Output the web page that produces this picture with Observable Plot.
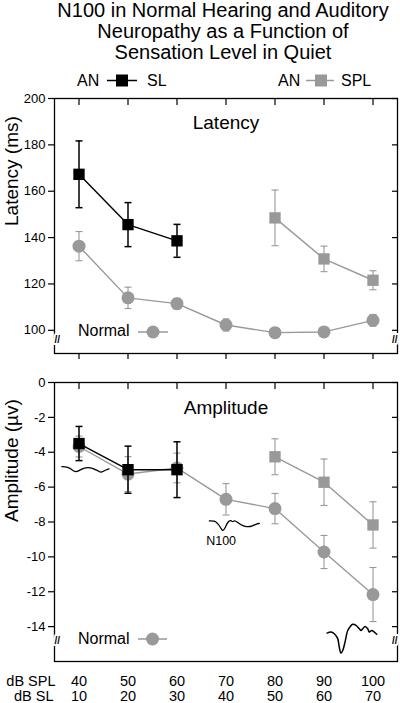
<!DOCTYPE html>
<html>
<head>
<meta charset="utf-8">
<script src="https://cdn.jsdelivr.net/npm/d3@7"></script>
<script src="https://cdn.jsdelivr.net/npm/@observablehq/plot@0.6"></script>
<style>
  html, body { margin: 0; padding: 0; background: #fff; }
  body { width: 400px; height: 703px; position: relative; overflow: hidden;
         font-family: "Liberation Sans", Arial, sans-serif; color: #000; }
  #title { position: absolute; top: 0; left: 0; width: 446px; text-align: center;
           font-size: 20px; line-height: 21px; }
  #top { position: absolute; left: 0; top: 88px; }
  #bottom { position: absolute; left: 0; top: 372px; }
  #legend { position: absolute; left: 0; top: 0; pointer-events: none; }
  svg text { font-family: "Liberation Sans", Arial, sans-serif; }
</style>
</head>
<body>
<div id="title">N100 in Normal Hearing and Auditory<br>Neuropathy as a Function of<br>Sensation Level in Quiet</div>
<div id="top"></div>
<div id="bottom"></div>
<svg id="legend" width="400" height="703">
  <g font-size="16">
    <text x="77" y="86">AN</text>
    <line x1="107" x2="137" y1="80.5" y2="80.5" stroke="#000" stroke-width="1.5"/>
    <rect x="116" y="74.5" width="12" height="12" fill="#000"/>
    <text x="147" y="86">SL</text>
    <text x="278" y="86">AN</text>
    <line x1="306" x2="334" y1="80.5" y2="80.5" stroke="#999" stroke-width="1.5"/>
    <rect x="315" y="74.5" width="12" height="12" fill="#999"/>
    <text x="341" y="86">SPL</text>
    <text x="78" y="336">Normal</text>
    <line x1="138" x2="168" y1="332" y2="332" stroke="#999" stroke-width="1.5"/>
    <circle cx="153" cy="332" r="6.5" fill="#999"/>
    <text x="78" y="644">Normal</text>
    <line x1="138" x2="167" y1="639" y2="639" stroke="#999" stroke-width="1.5"/>
    <circle cx="152.5" cy="639" r="6.5" fill="#999"/>
  </g>
</svg>
<script>
// ---- data ----
const levelsSPL = [40, 50, 60, 70, 80, 90, 100];
const levelsSL = [10, 20, 30, 40, 50, 60, 70];
const anSLLevels = [40, 50, 60];
const anSPLLevels = [80, 90, 100];

const latencyTicks = [100, 120, 140, 160, 180, 200];
const amplitudeTicks = [0, -2, -4, -6, -8, -10, -12, -14];

const latencyNormal = [136.3, 114.0, 111.5, 102.3, 99.0, 99.3, 104.3];
const latencyNormalErr = [6.3, 4.6, 2.3, 2.6, 1.5, 1.8, 2.5];
const latencyANSL = [167.3, 145.6, 138.6];
const latencyANSLErr = [14.4, 9.5, 7.1];
const latencyANSPL = [148.5, 130.8, 121.6];
const latencyANSPLErr = [12.0, 5.5, 4.1];

const amplitudeNormal = [-3.67, -5.25, -4.9, -6.7, -7.23, -9.72, -12.16];
const amplitudeNormalErr = [0.6, 1.0, 0.85, 0.9, 0.87, 0.95, 1.55];
const amplitudeANSL = [-3.5, -5.0, -5.0];
const amplitudeANSLErr = [0.98, 1.35, 1.6];
const amplitudeANSPL = [-4.26, -5.72, -8.17];
const amplitudeANSPLErr = [1.03, 1.33, 1.33];

// waveform insets (read in chart units: level, µV)
const wave1X = [36.5, 37.55, 38.37, 39.18, 40.0, 40.82, 41.84, 42.86, 43.88, 44.49, 45.1, 46.12];
const wave1Y = [-4.83, -4.83, -4.95, -5.15, -5.06, -4.92, -4.86, -4.92, -5.06, -5.18, -5.06, -4.95];
const wave2X = [66.59, 67.61, 68.31, 68.98, 69.33, 69.8, 70.35, 71.02, 71.37, 71.69, 72.39, 73.06, 73.73, 74.43, 75.45, 76.12, 76.8];
const wave2Y = [-7.93, -7.93, -8.07, -8.36, -8.55, -8.36, -7.98, -7.89, -8.02, -7.89, -8.02, -8.17, -8.23, -8.29, -8.23, -8.12, -8.08];
const wave3X = [90.61, 91.43, 92.1, 92.8, 93.12, 93.47, 93.82, 94.29, 94.84, 95.37, 95.86, 96.53, 97.2, 97.55, 97.9, 98.37, 98.92, 99.24, 99.73, 100.27, 100.76];
const wave3Y = [-14.37, -14.31, -14.41, -14.69, -15.18, -15.52, -15.37, -14.89, -14.22, -13.99, -13.87, -13.93, -14.12, -14.22, -14.12, -13.99, -14.12, -14.31, -14.22, -14.31, -14.44];
const waveLabel = "N100";
const waveLabelAt = [69.0, -9.08];

const latencyTitle = "Latency";
const amplitudeTitle = "Amplitude";
const latencyAxisTitle = "Latency (ms)";
const amplitudeAxisTitle = "Amplitude (\u00B5v)";
const rowLabels = ["dB SPL", "dB SL"];

// ---- helpers ----
const table = (xs, ys, es) => xs.map((x, i) => ({x, y: ys[i], e: es[i]}));
const pts = (xs, ys) => xs.map((x, i) => ({x, y: ys[i]}));
const capSymbol = {draw(ctx, size) { const w = Math.sqrt(size / Math.PI); ctx.moveTo(-w, 0); ctx.lineTo(w, 0); }};
const GRAY = "#999";

function series(data, color, symbol, r, sw) {
  return [
    Plot.ruleX(data, {x: "x", y1: d => d.y - d.e, y2: d => d.y + d.e, stroke: color, strokeWidth: sw}),
    Plot.dot(data, {x: "x", y: d => d.y + d.e, symbol: capSymbol, r: 3.5, fill: "none", stroke: color, strokeWidth: sw}),
    Plot.dot(data, {x: "x", y: d => d.y - d.e, symbol: capSymbol, r: 3.5, fill: "none", stroke: color, strokeWidth: sw}),
    Plot.line(data, {x: "x", y: "y", stroke: color, strokeWidth: 1.4}),
    Plot.dot(data, {x: "x", y: "y", symbol, r, fill: color, stroke: "none"})
  ];
}

function breaks(dy) {
  const opts = {text: d => d, fontSize: 10, fill: "#000", stroke: "#fff", strokeWidth: 4, paintOrder: "stroke", dy, fontWeight: "bold"};
  return [
    Plot.text(["//"], {...opts, frameAnchor: "bottom-left"}),
    Plot.text(["//"], {...opts, frameAnchor: "bottom-right"})
  ];
}

const common = {
  width: 400, marginLeft: 54, marginRight: 3, marginTop: 10,
  x: {domain: [35, 105]},
  style: {fontFamily: "Liberation Sans, Arial, sans-serif", fontSize: "13px", color: "#000", background: "transparent"}
};

// ---- top: latency ----
const topPlot = Plot.plot({
  ...common,
  height: 275, marginBottom: 10,
  y: {domain: [90, 200]},
  marks: [
    Plot.axisX({anchor: "top", ticks: levelsSPL, tickSize: -6, tickFormat: () => "", label: null, strokeWidth: 1.2}),
    Plot.axisX({anchor: "bottom", ticks: levelsSPL, tickSize: 6, tickFormat: () => "", label: null, strokeWidth: 1.2}),
    Plot.axisY({anchor: "left", ticks: latencyTicks, tickSize: 6, tickPadding: 3, tickFormat: d => String(d), label: null, fontSize: 13, strokeWidth: 1.2}),
    Plot.axisY({anchor: "right", ticks: latencyTicks, tickSize: -6, tickFormat: () => "", label: null, strokeWidth: 1.2}),
    Plot.frame({stroke: "#000", strokeWidth: 1.3}),
    ...breaks(-11),
    Plot.text([latencyTitle], {text: d => d, frameAnchor: "top", lineAnchor: "bottom", dy: 30, fontSize: 19}),
    Plot.text([latencyAxisTitle], {text: d => d, frameAnchor: "left", rotate: -90, dx: -43, fontSize: 19}),
    ...series(table(levelsSPL, latencyNormal, latencyNormalErr), GRAY, "circle", 6.5, 1.1),
    ...series(table(anSPLLevels, latencyANSPL, latencyANSPLErr), GRAY, "square", 6.4, 1.1),
    ...series(table(anSLLevels, latencyANSL, latencyANSLErr), "#000", "square", 6.4, 1.5)
  ]
});
document.getElementById("top").append(topPlot);

// ---- bottom: amplitude ----
const bottomPlot = Plot.plot({
  ...common,
  height: 331, marginBottom: 42,
  y: {domain: [-16, 0]},
  marks: [
    Plot.axisX({anchor: "top", ticks: levelsSPL, tickSize: -6, tickFormat: () => "", label: null, strokeWidth: 1.2}),
    Plot.axisY({anchor: "left", ticks: amplitudeTicks, tickSize: 6, tickPadding: 3, tickFormat: d => String(d), label: null, fontSize: 13, strokeWidth: 1.2}),
    Plot.axisY({anchor: "right", ticks: amplitudeTicks, tickSize: -6, tickFormat: () => "", label: null, strokeWidth: 1.2}),
    Plot.frame({stroke: "#000", strokeWidth: 1.3}),
    ...breaks(-18),
    Plot.text(levelsSPL, {x: d => d, text: d => String(d), frameAnchor: "bottom", lineAnchor: "bottom", dy: 24, fontSize: 14.5}),
    Plot.text(levelsSL, {x: (d, i) => levelsSPL[i], text: d => String(d), frameAnchor: "bottom", lineAnchor: "bottom", dy: 39.5, fontSize: 14.5}),
    Plot.text([rowLabels[0]], {text: d => d, frameAnchor: "bottom-left", textAnchor: "end", lineAnchor: "bottom", dx: 1, dy: 24, fontSize: 14.5}),
    Plot.text([rowLabels[1]], {text: d => d, frameAnchor: "bottom-left", textAnchor: "end", lineAnchor: "bottom", dx: -1, dy: 39.5, fontSize: 14.5}),
    Plot.text([amplitudeTitle], {text: d => d, frameAnchor: "top", lineAnchor: "bottom", dy: 31, fontSize: 19}),
    Plot.text([amplitudeAxisTitle], {text: d => d, frameAnchor: "left", rotate: -90, dx: -43, fontSize: 19}),
    Plot.line(pts(wave1X, wave1Y), {x: "x", y: "y", stroke: "#000", strokeWidth: 1.3, curve: "basis"}),
    Plot.line(pts(wave2X, wave2Y), {x: "x", y: "y", stroke: "#000", strokeWidth: 1.3, curve: "basis"}),
    Plot.line(pts(wave3X, wave3Y), {x: "x", y: "y", stroke: "#000", strokeWidth: 1.5, curve: "catmull-rom"}),
    Plot.text([waveLabel], {x: () => waveLabelAt[0], y: () => waveLabelAt[1], text: d => d, fontSize: 12.5}),
    ...series(table(levelsSPL, amplitudeNormal, amplitudeNormalErr), GRAY, "circle", 6.5, 1.1),
    ...series(table(anSPLLevels, amplitudeANSPL, amplitudeANSPLErr), GRAY, "square", 6.4, 1.1),
    ...series(table(anSLLevels, amplitudeANSL, amplitudeANSLErr), "#000", "square", 6.4, 1.5)
  ]
});
document.getElementById("bottom").append(bottomPlot);
</script>
</body>
</html>
